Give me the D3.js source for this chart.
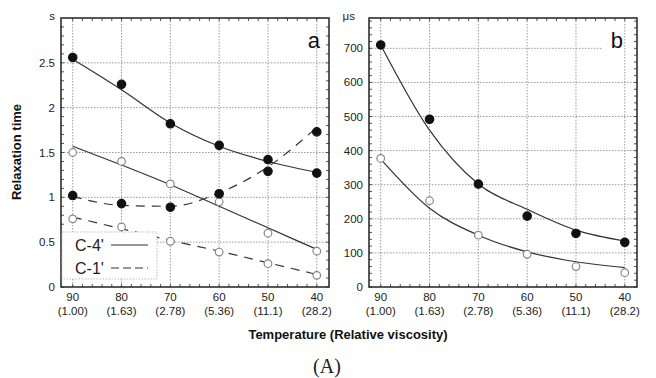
<!DOCTYPE html>
<html>
<head>
<meta charset="utf-8">
<script src="https://cdn.jsdelivr.net/npm/d3@7"></script>
<style>
  body { margin: 0; background: #fff; }
  text { font-family: "Liberation Sans", Arial, sans-serif; }
</style>
</head>
<body>
<svg id="chart" width="656" height="378"></svg>
<script>
// temperatures (x) and relative viscosity labels
var temps = [90, 80, 70, 60, 50, 40];
var viscLabels = ["(1.00)", "(1.63)", "(2.78)", "(5.36)", "(11.1)", "(28.2)"];

// panel a (s)
var aTicks = [0, 0.5, 1, 1.5, 2, 2.5];
var aC4Filled = [2.56, 2.26, 1.82, 1.58, 1.42, 1.27];
var aC4Open = [1.50, 1.40, 1.15, 0.95, 0.60, 0.40];
var aC1Filled = [1.02, 0.93, 0.89, 1.04, 1.29, 1.73];
var aC1Open = [0.76, 0.67, 0.51, 0.39, 0.26, 0.13];
var aC4FilledFit = [2.54, 2.20, 1.83, 1.57, 1.40, 1.28];
var aC4OpenFit = [1.57, 1.36, 1.14, 0.90, 0.66, 0.42];
var aC1FilledFit = [1.01, 0.91, 0.90, 1.05, 1.34, 1.78];
var aC1OpenFit = [0.78, 0.65, 0.52, 0.40, 0.27, 0.14];

// panel b (µs)
var bTicks = [0, 100, 200, 300, 400, 500, 600, 700];
var bFilled = [710, 492, 302, 208, 157, 131];
var bOpen = [377, 253, 152, 96, 60, 42];
var bFilledFit = [710, 460, 302, 228, 167, 135];
var bOpenFit = [375, 231, 152, 103, 74, 57];

var svg = d3.select("#chart");
var yTop = 18, yBottom = 287;

function panel(opts) {
  var x = d3.scaleLinear().domain([92.4, 37.5]).range([opts.left, opts.right]);
  var y = d3.scaleLinear().domain([0, opts.ymax]).range([yBottom, yTop]);
  var g = svg.append("g");

  // dotted grid
  g.selectAll(".vg").data(temps).enter().append("line")
    .attr("x1", function(d) { return x(d); }).attr("x2", function(d) { return x(d); })
    .attr("y1", yTop).attr("y2", yBottom)
    .attr("stroke", "#999").attr("stroke-width", 1).attr("stroke-dasharray", "1.5,1.5");
  g.selectAll(".hg").data(opts.ticks.filter(function(d) { return d > 0; })).enter().append("line")
    .attr("x1", opts.left).attr("x2", function(d) { return d === opts.shortGrid ? opts.right - 35 : opts.right; })
    .attr("y1", function(d) { return y(d); }).attr("y2", function(d) { return y(d); })
    .attr("stroke", "#999").attr("stroke-width", 1).attr("stroke-dasharray", "1.5,1.5");

  // minor ticks on the frame
  var yMinor = d3.range(0, opts.ymax, opts.minorStep);
  g.selectAll(".ym").data(yMinor).enter().append("line")
    .attr("x1", opts.left).attr("x2", opts.left + 3)
    .attr("y1", function(d) { return y(d); }).attr("y2", function(d) { return y(d); })
    .attr("stroke", "#555");
  g.selectAll(".ym2").data(yMinor).enter().append("line")
    .attr("x1", opts.right).attr("x2", opts.right - 3)
    .attr("y1", function(d) { return y(d); }).attr("y2", function(d) { return y(d); })
    .attr("stroke", "#555");
  var xMinor = d3.range(40, 92, 2);
  g.selectAll(".xm").data(xMinor).enter().append("line")
    .attr("x1", function(d) { return x(d); }).attr("x2", function(d) { return x(d); })
    .attr("y1", yBottom).attr("y2", yBottom - 3)
    .attr("stroke", "#555");
  g.selectAll(".xm2").data(xMinor).enter().append("line")
    .attr("x1", function(d) { return x(d); }).attr("x2", function(d) { return x(d); })
    .attr("y1", yTop).attr("y2", yTop + 3)
    .attr("stroke", "#555");

  // frame
  g.append("rect").attr("x", opts.left).attr("y", yTop)
    .attr("width", opts.right - opts.left).attr("height", yBottom - yTop)
    .attr("fill", "none").attr("stroke", "#222").attr("stroke-width", 1.5);

  // y tick labels
  g.selectAll(".yl").data(opts.ticks).enter().append("text")
    .attr("x", opts.left - 6).attr("y", function(d) { return y(d) + 4; })
    .attr("text-anchor", "end").attr("font-size", 11.5).attr("fill", "#222")
    .text(function(d) { return d; });
  g.append("text").attr("x", opts.left - opts.unitPad).attr("y", yTop + 2)
    .attr("text-anchor", "end").attr("font-size", 11.5).attr("fill", "#222")
    .text(opts.unit);

  // x tick labels
  g.selectAll(".xl").data(temps).enter().append("text")
    .attr("x", function(d) { return x(d); }).attr("y", 301)
    .attr("text-anchor", "middle").attr("font-size", 11.5).attr("fill", "#222")
    .text(function(d) { return d; });
  g.selectAll(".xl2").data(temps).enter().append("text")
    .attr("x", function(d) { return x(d); }).attr("y", 315)
    .attr("text-anchor", "middle").attr("font-size", 11.5).attr("fill", "#222")
    .text(function(d, i) { return viscLabels[i]; });

  // panel letter
  g.append("text").attr("x", opts.right - opts.letterPad).attr("y", 48)
    .attr("text-anchor", "end").attr("font-size", 22).attr("fill", "#111")
    .text(opts.letter);

  return { x: x, y: y, g: g };
}

function fitLine(p, vals, dashed) {
  var line = d3.line()
    .x(function(d, i) { return p.x(temps[i]); })
    .y(function(d) { return p.y(d); })
    .curve(d3.curveMonotoneX);
  p.g.append("path").datum(vals)
    .attr("fill", "none").attr("stroke", "#333").attr("stroke-width", 1.2)
    .attr("stroke-dasharray", dashed ? "9,7" : null)
    .attr("d", line);
}

function points(p, vals, filled) {
  p.g.selectAll(null).data(vals).enter().append("circle")
    .attr("cx", function(d, i) { return p.x(temps[i]); })
    .attr("cy", function(d) { return p.y(d); })
    .attr("r", filled ? 4.2 : 3.8)
    .attr("fill", filled ? "#111" : "#fff")
    .attr("stroke", filled ? "#111" : "#888")
    .attr("stroke-width", 1.2);
}

// panel a
var pa = panel({ left: 61, right: 329, ymax: 3, ticks: aTicks, unit: "s", letter: "a",
  minorStep: 0.1, shortGrid: null, unitPad: 6, letterPad: 9 });

fitLine(pa, aC4FilledFit, false);
fitLine(pa, aC4OpenFit, false);
fitLine(pa, aC1FilledFit, true);
fitLine(pa, aC1OpenFit, true);
points(pa, aC4Open, false);
points(pa, aC1Open, false);
points(pa, aC4Filled, true);
points(pa, aC1Filled, true);

// legend box
pa.g.append("rect").attr("x", 62).attr("y", 232).attr("width", 95).attr("height", 47)
  .attr("fill", "#fff").attr("stroke", "#bbb").attr("stroke-dasharray", "1.5,1.5");
pa.g.append("text").attr("x", 75).attr("y", 251).attr("font-size", 16).attr("fill", "#222").text("C-4'");
pa.g.append("text").attr("x", 75).attr("y", 274).attr("font-size", 16).attr("fill", "#222").text("C-1'");
pa.g.append("line").attr("x1", 111).attr("x2", 148).attr("y1", 245).attr("y2", 245)
  .attr("stroke", "#333").attr("stroke-width", 1.2);
pa.g.append("line").attr("x1", 111).attr("x2", 148).attr("y1", 268).attr("y2", 268)
  .attr("stroke", "#333").attr("stroke-width", 1.2).attr("stroke-dasharray", "8,4");

// panel b
var pb = panel({ left: 369, right: 637, ymax: 789, ticks: bTicks, unit: "\u03bcs", letter: "b",
  minorStep: 20, shortGrid: 700, unitPad: 14, letterPad: 14 });
fitLine(pb, bFilledFit, false);
fitLine(pb, bOpenFit, false);
points(pb, bOpen, false);
points(pb, bFilled, true);

// axis titles
svg.append("text").attr("transform", "translate(21,152) rotate(-90)")
  .attr("text-anchor", "middle").attr("font-size", 13).attr("font-weight", "bold").attr("fill", "#111")
  .text("Relaxation time");
svg.append("text").attr("x", 348).attr("y", 339)
  .attr("text-anchor", "middle").attr("font-size", 13).attr("font-weight", "bold").attr("fill", "#111")
  .text("Temperature (Relative viscosity)");
svg.append("text").attr("x", 327).attr("y", 373)
  .attr("text-anchor", "middle").attr("font-size", 20).attr("fill", "#222")
  .style("font-family", "'Liberation Serif', 'DejaVu Serif', serif")
  .text("(A)");
</script>
</body>
</html>
